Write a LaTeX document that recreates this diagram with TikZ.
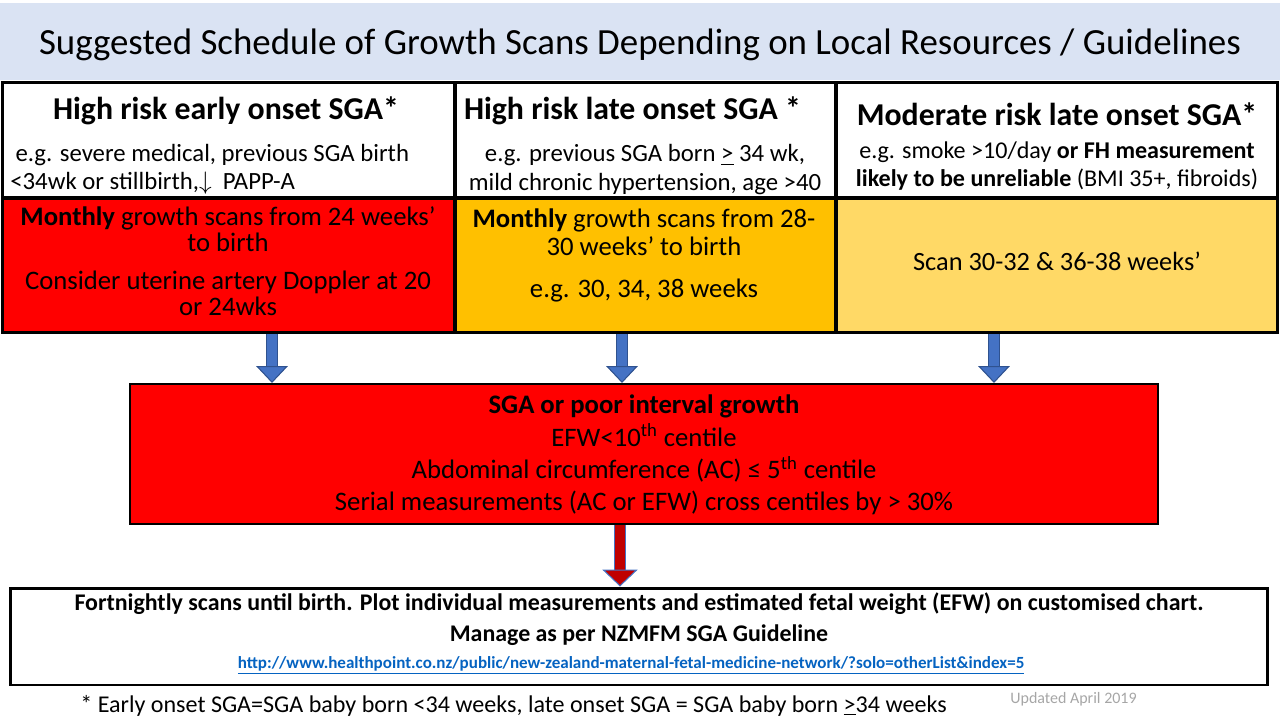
\documentclass[tikz,border=0pt]{standalone}
\usepackage{fontspec}
\setmainfont{Carlito}
\usetikzlibrary{arrows.meta}

\definecolor{bandblue}{HTML}{DAE3F3}
\definecolor{riskred}{HTML}{FF0000}
\definecolor{riskorange}{HTML}{FFC000}
\definecolor{riskyellow}{HTML}{FFD966}
\definecolor{arrowblue}{HTML}{4472C4}
\definecolor{arrowedge}{HTML}{2F528F}
\definecolor{darkred}{HTML}{C00000}
\definecolor{linkblue}{HTML}{0563C1}
\definecolor{notegray}{HTML}{A6A6A6}

\begin{document}
\begin{tikzpicture}[x=0.02cm, y=-0.02cm,
  cell/.style={draw, line width=1.7pt, inner sep=0pt},
  head/.style={inner sep=0pt, font={\fontsize{18.1}{20}\selectfont\bfseries}},
  body/.style={inner sep=0pt, align=center, font={\fontsize{14.1}{16}\selectfont}},
  bluearrow/.style={draw=arrowblue, line width=5.4pt,
    preaction={draw=arrowedge, line width=6.6pt, shorten >=8pt, -},
    -{Triangle[width=18pt, length=9.6pt, line width=0.6pt, color=arrowedge, fill=arrowblue]}},
  redarrow/.style={draw=darkred, line width=6pt,
    preaction={draw=arrowblue, line width=7.2pt, shorten >=8pt, -},
    -{Triangle[width=20pt, length=9.6pt, line width=0.6pt, color=arrowblue, fill=darkred]}}]
  \useasboundingbox (0,0) rectangle (1280,720);

  % Title band
  \node[fill=bandblue, minimum width=25.6cm, minimum height=1.54cm, inner sep=0pt,
    font={\fontsize{21}{24}\selectfont}] (title) at (640,41.5) {};
  \node[inner sep=0pt, font={\fontsize{21}{24}\selectfont}] (titletext) at (640,44.5)
    {Suggested Schedule of Growth Scans Depending on Local Resources / Guidelines};

  % Risk groups
  \node[cell, fill=white, minimum width=9.06cm, minimum height=2.32cm] (c1top) at (228.5,140) {};
  \node[cell, fill=white, minimum width=7.62cm, minimum height=2.32cm] (c2top) at (645.5,140) {};
  \node[cell, fill=white, minimum width=8.84cm, minimum height=2.32cm] (c3top) at (1057,140) {};
  \node[cell, fill=riskred, minimum width=9.06cm, minimum height=2.7cm] (c1bot) at (228.5,265.5) {};
  \node[cell, fill=riskorange, minimum width=7.62cm, minimum height=2.7cm] (c2bot) at (645.5,265.5) {};
  \node[cell, fill=riskyellow, minimum width=8.84cm, minimum height=2.7cm] (c3bot) at (1057,265.5) {};

  \node[head, anchor=base] (h1) at (226,119) {High risk early onset SGA*};
  \node[head, anchor=base] (h2) at (632.5,119) {High risk late onset SGA *};
  \node[head, anchor=base] (h3) at (1057,125) {Moderate risk late onset SGA*};

  \node[body, align=left, anchor=west] (e1) at (10,169)
    {\hspace*{3pt}e.g. severe medical, previous SGA birth\\<34wk or stillbirth,$\downarrow$\ \ PAPP-A};
  \node[body] (e2) at (645,169.5)
    {e.g. previous SGA born \underline{>} 34 wk,\\mild chronic hypertension, age >40};
  \node[body, font={\fontsize{13.7}{15.9}\selectfont}] (e3) at (1057,166)
    {e.g. smoke >10/day \textbf{or FH measurement}\\\textbf{likely to be unreliable} (BMI 35+, fibroids)};

  \node[body, font={\fontsize{15.2}{14.7}\selectfont}] (s1) at (228,261)
    {\textbf{Monthly} growth scans from 24 weeks’\\to birth\\[7.2pt]Consider uterine artery Doppler at 20\\or 24wks};
  \node[body, font={\fontsize{15.2}{15.9}\selectfont}] (s2) at (644,255.5)
    {\textbf{Monthly} growth scans from 28-\\30 weeks’ to birth\\[7.8pt]e.g. 30, 34, 38 weeks};
  \node[body, anchor=base, font={\fontsize{15}{16}\selectfont}] (s3) at (1057,270)
    {Scan 30-32 \& 36-38 weeks’};

  % SGA box
  \node[cell, line width=1.2pt, fill=riskred, minimum width=20.56cm, minimum height=2.8cm] (sga) at (644,454) {};
  \node[body, font={\fontsize{15.2}{18.3}\selectfont}] (sgatext) at (644,455)
    {\textbf{SGA or poor interval growth}\\EFW<10\textsuperscript{th} centile\\Abdominal circumference (AC) ≤ 5\textsuperscript{th} centile\\Serial measurements (AC or EFW) cross centiles by > 30\%};

  % Outcome box
  \node[cell, fill=white, minimum width=25.16cm, minimum height=1.94cm] (plan) at (639,636.5) {};
  \node[head, anchor=base, font={\fontsize{13.6}{15}\selectfont\bfseries}] (p1) at (639,610)
    {Fortnightly scans until birth. Plot individual measurements and estimated fetal weight (EFW) on customised chart.};
  \node[head, anchor=base, font={\fontsize{13.6}{15}\selectfont\bfseries}] (p2) at (639,641)
    {Manage as per NZMFM SGA Guideline};
  \node[head, anchor=base, text=linkblue, font={\fontsize{9.7}{11}\selectfont\bfseries}] (p3) at (631,668)
    {\underline{http://www.healthpoint.co.nz/public/new-zealand-maternal-fetal-medicine-network/?solo=otherList\&index=5}};

  % Arrows
  \coordinate (x1) at (272,0);
  \coordinate (x2) at (622,0);
  \coordinate (x3) at (994,0);
  \coordinate (x4) at (620,0);
  \draw[bluearrow] (c1bot.south -| x1) -- (sga.north -| x1);
  \draw[bluearrow] (c2bot.south -| x2) -- (sga.north -| x2);
  \draw[bluearrow] (c3bot.south -| x3) -- (sga.north -| x3);
  \draw[redarrow] (sga.south -| x4) -- (plan.north -| x4);

  % Footnotes
  \node[inner sep=0pt, anchor=base west, font={\fontsize{13.7}{15}\selectfont}] (foot) at (80,712)
    {* Early onset SGA=SGA baby born <34 weeks, late onset SGA = SGA baby born \underline{>}34 weeks};
  \node[inner sep=0pt, anchor=base west, text=notegray, font={\fontsize{9.1}{10}\selectfont}] (updated) at (1010,703)
    {Updated April 2019};
\end{tikzpicture}
\end{document}
